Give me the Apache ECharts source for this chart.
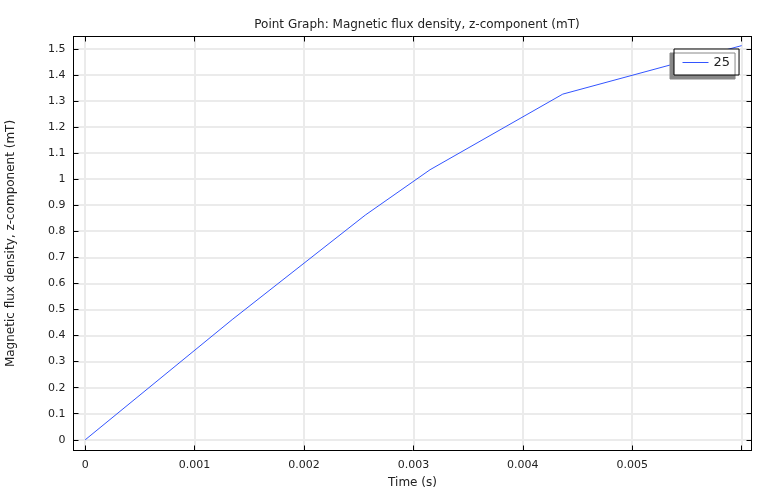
<!DOCTYPE html>
<html>
<head>
<meta charset="utf-8">
<script src="https://cdn.jsdelivr.net/npm/echarts@6/dist/echarts.min.js"></script>
<style>html,body{margin:0;padding:0;background:#fff}#c{width:759px;height:491px}</style>
</head>
<body>
<div id="c"></div>
<script>
const timeValues = [0, 0.001343, 0.00256, 0.003152, 0.004365, 0.006];
const bzValues = [0, 0.461, 0.862, 1.036, 1.326, 1.512];
const seriesName = '25';
const xTickValues = [0, 0.001, 0.002, 0.003, 0.004, 0.005, 0.006];
const xTickLabels = ['0', '0.001', '0.002', '0.003', '0.004', '0.005', ''];
const yTickValues = [0,0.1,0.2,0.3,0.4,0.5,0.6,0.7,0.8,0.9,1,1.1,1.2,1.3,1.4,1.5];
const yTickLabels = ['0','0.1','0.2','0.3','0.4','0.5','0.6','0.7','0.8','0.9','1','1.1','1.2','1.3','1.4','1.5'];

const font = 'DejaVu Sans';
const chart = echarts.init(document.getElementById('c'), null, {renderer: 'canvas'});
const gridColor = '#ebebeb';
const xMin = -0.000107, xMax = 0.00609, yMin = -0.041, yMax = 1.547;

function labelFor(values, labels) {
  return function (v) {
    for (let i = 0; i < values.length; i++) {
      if (Math.abs(values[i] - v) < 1e-9) return labels[i];
    }
    return '';
  };
}

chart.setOption({
  animation: false,
  backgroundColor: '#ffffff',
  title: {
    text: 'Point Graph: Magnetic flux density, z-component (mT)',
    left: 412, top: 14, textAlign: 'center',
    textStyle: {fontFamily: font, fontSize: 12, fontWeight: 'normal', color: '#222'}
  },
  grid: {left: 73.5, right: 7.5, top: 36.5, bottom: 40.5, containLabel: false, outerBoundsMode: 'none'},
  legend: {
    left: 674, top: 49,
    orient: 'vertical',
    data: [seriesName],
    itemWidth: 26, itemHeight: 14, itemGap: 0,
    padding: [7, 9, 6, 8],
    backgroundColor: '#fff',
    borderColor: '#000', borderWidth: 1,
    shadowColor: '#888', shadowBlur: 0, shadowOffsetX: -4, shadowOffsetY: 4,
    itemStyle: {opacity: 0},
    lineStyle: {width: 1},
    textStyle: {fontFamily: font, fontSize: 13, color: '#222'}
  },
  xAxis: [{
    type: 'value', min: xMin, max: xMax,
    name: 'Time (s)', nameLocation: 'middle', nameGap: 26,
    nameTextStyle: {fontFamily: font, fontSize: 12, color: '#222'},
    axisLine: {show: true, onZero: false, lineStyle: {color: '#000', width: 1}},
    axisTick: {show: true, inside: true, length: 5, customValues: xTickValues, lineStyle: {color: '#000'}},
    axisLabel: {customValues: xTickValues, formatter: labelFor(xTickValues, xTickLabels), fontFamily: font, fontSize: 11, color: '#222', margin: 9},
    splitLine: {show: true, lineStyle: {color: gridColor, width: 2}}
  }, {
    type: 'value', position: 'top', min: xMin, max: xMax,
    axisLine: {show: true, onZero: false, lineStyle: {color: '#000', width: 1}},
    axisTick: {show: true, inside: true, length: 5, customValues: xTickValues, lineStyle: {color: '#000'}},
    axisLabel: {show: false},
    splitLine: {show: false}
  }],
  yAxis: [{
    type: 'value', min: yMin, max: yMax,
    name: 'Magnetic flux density, z-component (mT)', nameLocation: 'middle', nameGap: 57,
    nameTextStyle: {fontFamily: font, fontSize: 12, color: '#222'},
    axisLine: {show: true, onZero: false, lineStyle: {color: '#000', width: 1}},
    axisTick: {show: true, inside: true, length: 5, customValues: yTickValues, lineStyle: {color: '#000'}},
    axisLabel: {customValues: yTickValues, formatter: labelFor(yTickValues, yTickLabels), fontFamily: font, fontSize: 11, color: '#222', margin: 8},
    splitLine: {show: true, lineStyle: {color: gridColor, width: 2}}
  }, {
    type: 'value', position: 'right', min: yMin, max: yMax,
    axisLine: {show: true, onZero: false, lineStyle: {color: '#000', width: 1}},
    axisTick: {show: true, inside: true, length: 5, customValues: yTickValues, lineStyle: {color: '#000'}},
    axisLabel: {show: false},
    splitLine: {show: false}
  }],
  series: [{
    name: seriesName,
    type: 'line',
    xAxisIndex: 0, yAxisIndex: 0,
    symbol: 'none',
    lineStyle: {color: '#3355ff', width: 1},
    itemStyle: {color: '#3355ff'},
    data: timeValues.map((t, i) => [t, bzValues[i]])
  }]
});
</script>
</body>
</html>
